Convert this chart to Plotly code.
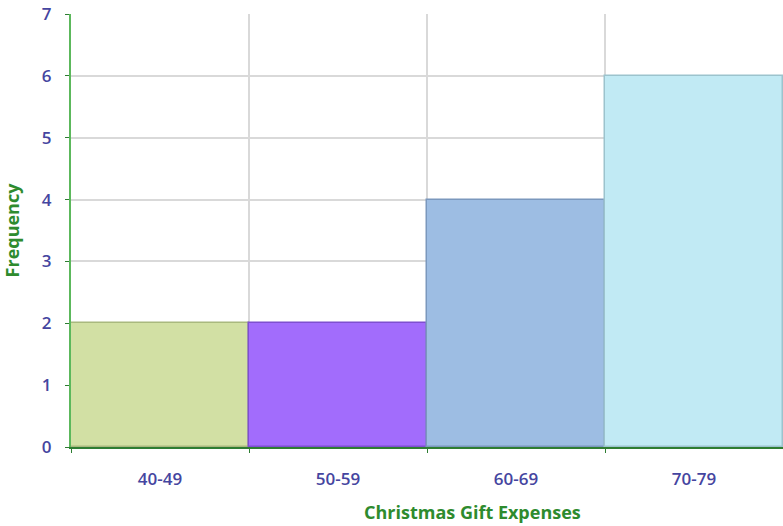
import plotly.graph_objects as go

categories = ["40-49", "50-59", "60-69", "70-79"]
frequency = [2, 2, 4, 6]
bar_colors = ["#d2e0a4", "#a26cfc", "#9dbde3", "#c1eaf4"]
edge_colors = ["#a9b97e", "#7e4fd0", "#7b98bd", "#9cc3cd"]
y_ticks = [0, 1, 2, 3, 4, 5, 6, 7]

fig = go.Figure(go.Bar(
    x=categories, y=frequency,
    marker=dict(color=bar_colors, line=dict(color=edge_colors, width=1.5)),
))

tick_font = dict(family="Open Sans", size=17, color="#4545a0", weight=600)

fig.update_layout(
    width=783, height=526,
    margin=dict(l=71, r=0, t=14, b=79),
    plot_bgcolor="white", paper_bgcolor="white",
    bargap=0, showlegend=False,
    xaxis=dict(
        type="category", tickson="boundaries", showgrid=True, gridcolor="#d9d9d9", gridwidth=1.5,
        showline=True, linecolor="#2e7d32", linewidth=2,
        ticks="outside", ticklen=4, tickcolor="#2e7d32",
        tickfont=tick_font, ticklabelstandoff=16,
        range=[-0.5, 3.5],
    ),
    yaxis=dict(
        range=[0, 7], tickvals=y_ticks, showgrid=True, gridcolor="#d9d9d9", gridwidth=1.5,
        showline=True, linecolor="#5cb85c", linewidth=2,
        ticks="outside", ticklen=4, tickcolor="#2e7d32",
        tickfont=tick_font, ticklabelstandoff=10,
        title=dict(text="<b>Frequency</b>", font=dict(family="Open Sans", size=18, color="#2e8b2e"), standoff=18),
        zeroline=False,
    ),
    annotations=[dict(
        text="<b>Christmas Gift Expenses</b>", xref="paper", yref="paper",
        x=(472 - 71) / 712, y=-(512 - 447) / 433, xanchor="center", yanchor="middle",
        showarrow=False, font=dict(family="Open Sans", size=18, color="#2e8b2e"),
    )],
)

fig.write_html("out.html")
